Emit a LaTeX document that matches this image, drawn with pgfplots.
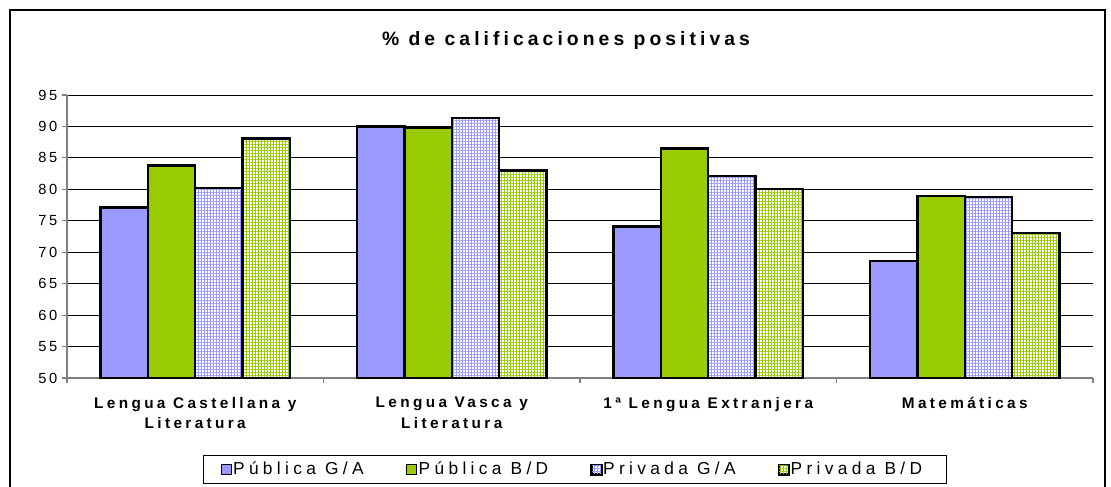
\documentclass[border=0pt]{standalone}
\usepackage{fontspec}
\setmainfont{Liberation Sans}
\newfontfamily\spaced[LetterSpace=18]{Liberation Sans}
\newfontfamily\spacedl[LetterSpace=25]{Liberation Sans}
\newfontfamily\spacedb[LetterSpace=22]{Liberation Sans}
\newfontfamily\spacedt[LetterSpace=21]{Liberation Sans}
\usepackage{pgfplots}
\pgfplotsset{compat=1.18}
\usetikzlibrary{patterns.meta}
\definecolor{cblue}{HTML}{9999FF}
\definecolor{cgreen}{HTML}{99CC00}
\begin{document}
\begin{tikzpicture}
\clip (0,0) rectangle (833.25pt,-364.5pt);
\draw[black, line width=0.8pt] (7.5pt,-7.5pt) rectangle (828.75pt,-420pt);
\node[font=\fontsize{14.5}{16}\bfseries\spacedt] at (424.5pt,-30pt) {\% de calificaciones positivas};
\begin{axis}[
  at={(50.25pt,-283.5pt)}, anchor=south west,
  scale only axis, width=769.5pt, height=212.25pt,
  xmin=-0.5, xmax=3.5, ymin=50, ymax=95,
  ytick={50,55,...,95},
  /pgf/number format/assume math mode=true,
  yticklabel style={font=\fontsize{11}{13}\spaced},
  ybar=0pt, bar width=35.5pt,
  xtick={0,1,2,3},
  xticklabels={{Lengua Castellana y\\Literatura},{Lengua Vasca y\\Literatura},{1ª Lengua\hspace{0.5em}Extranjera},{Matemáticas}},
  xticklabel style={align=center, anchor=north, yshift=-7pt, font=\fontsize{11.5}{15.5}\selectfont\bfseries\spacedb},
  major x tick style={draw=none},
  minor xtick={-0.5,0.5,1.5,2.5,3.5},
  minor x tick style={gray, line width=0.8pt},
  tick align=outside,
  major tick length=3.75pt, minor tick length=3.75pt,
  y tick style={gray, line width=0.8pt},
  ymajorgrids, grid style={black, line width=0.6pt},
  axis x line*=bottom, axis y line*=left,
  axis line style={gray, line width=1pt},
  every axis plot/.append style={draw=black, line width=1.7pt},
  legend style={at={(0.1325,-0.272)}, anchor=north west, legend columns=4,
    draw=black, line width=0.8pt, font=\fontsize{13}{15}\spacedl,
    nodes={inner sep=1pt},
    /tikz/every even column/.append style={column sep=22pt},
    inner xsep=4pt, inner ysep=4pt},
  legend image code/.code={\path (0pt,0pt); \draw[#1, line width=0.8pt] (8.5pt,-3.7pt) rectangle (16pt,3.7pt);},
]
\addplot[fill=cblue] coordinates {(0,77.1) (1,90.0) (2,74.1) (3,68.6)};
\addplot[fill=cgreen] coordinates {(0,83.8) (1,89.8) (2,86.5) (3,78.9)};
\addplot[preaction={fill=white}, pattern={Hatch[angle=0, distance=2.25pt, line width=0.5pt]}, pattern color=cblue] coordinates {(0,80.2) (1,91.4) (2,82.1) (3,78.8)};
\addplot[preaction={fill=white}, pattern={Hatch[angle=0, distance=2.25pt, line width=0.5pt]}, pattern color=cgreen] coordinates {(0,88.1) (1,83.0) (2,80.1) (3,73.1)};
\legend{Pública G/A, Pública B/D, Privada G/A, Privada B/D\rule{13pt}{0pt}}
\end{axis}
\end{tikzpicture}
\end{document}
